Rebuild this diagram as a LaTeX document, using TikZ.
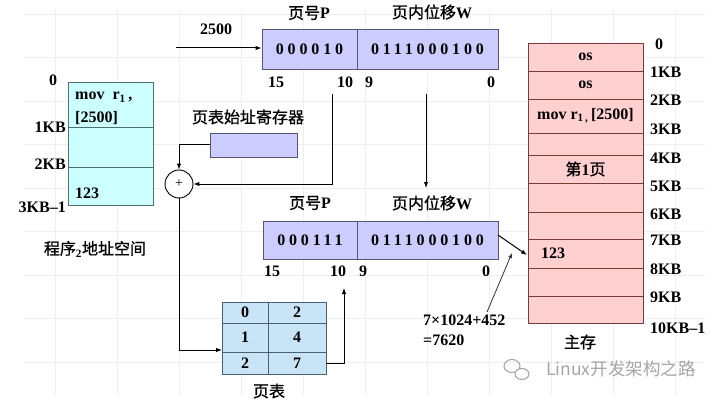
\documentclass[tikz,border=0pt]{standalone}
\usepackage{fontspec}
\setmainfont{Liberation Serif}
\newfontfamily\cjk{Noto Sans CJK SC}[FakeBold=1]
\newfontfamily\cjkwm{Noto Sans CJK SC}
\newfontfamily\spaced{Liberation Serif}[LetterSpace=24]
\usetikzlibrary{arrows.meta}
\definecolor{regfill}{HTML}{CCCCFF}
\definecolor{regline}{HTML}{55557A}
\definecolor{progfill}{HTML}{CCFFFF}
\definecolor{progline}{HTML}{4F6F6F}
\definecolor{ptfill}{HTML}{C8E4F6}
\definecolor{ptline}{HTML}{4A5F6F}
\definecolor{memfill}{HTML}{FFD0D0}
\definecolor{memline}{HTML}{7A3A3A}
\definecolor{gridc}{HTML}{EEEEEE}
\newcommand\zh[1]{{\cjk\mdseries #1}}
\begin{document}
\begin{tikzpicture}[x=1pt,y=-1pt,
  lbl/.style={font=\fontsize{16}{18}\selectfont\bfseries, inner sep=0pt},
  reg/.style={draw=regline, fill=regfill, line width=0.9pt, inner sep=0pt,
    font=\fontsize{16}{18}\selectfont\bfseries\spaced},
  progrow/.style={draw=progline, fill=progfill, line width=0.8pt, inner sep=0pt, minimum width=85pt},
  ptcell/.style={draw=ptline, fill=ptfill, line width=0.8pt, inner sep=0pt,
    font=\fontsize{16}{18}\selectfont\bfseries},
  memrow/.style={draw=memline, fill=memfill, line width=0.9pt, inner sep=0pt, minimum width=115pt,
    font=\fontsize{16}{18}\selectfont\bfseries},
  conn/.style={draw=black, line width=1pt},
  arr/.style={conn, -{Latex[length=6pt,width=4.5pt]}}
]
\useasboundingbox (0,0) rectangle (720,401);
\fill[white] (0,0) rectangle (720,401);
% faint grid
\foreach \gx in {55,117,179,241,303,365,427,489,551,613,675}
  \draw[gridc, line width=0.6pt] (\gx,10) -- (\gx,395);
\foreach \gy in {14,57.5,101,144.5,188,231.5,275,318.5,362}
  \draw[gridc, line width=0.6pt] (24,\gy) -- (705,\gy);

% ---------- top register ----------
\node[reg, minimum width=95pt, minimum height=40pt] (r1p) at (309.5,49) {000010};
\node[reg, minimum width=141pt, minimum height=40pt] (r1w) at (427.5,49) {0111000100};
\node[lbl] (r1pl) at (309,13) {\zh{页号}P};
\node[lbl] (r1wl) at (432,12) {\zh{页内位移}W};
\node[lbl] (b15a) at (276,82) {15};
\node[lbl] (b10a) at (345,82) {10};
\node[lbl] (b9a) at (369,82) {9};
\node[lbl] (b0a) at (491,82) {0};
\node[lbl] (l2500) at (216,29) {2500};
\coordinate (a2500) at (176,48);
\draw[arr] (a2500) -- (r1p.west |- a2500);

% ---------- program address space ----------
\node[progrow, minimum height=45pt] (p0) at (110.5,104.5) {};
\node[progrow, minimum height=40pt] (p1) at (110.5,147) {};
\node[progrow, minimum height=38pt] (p2) at (110.5,186) {};
\node[lbl, anchor=west] (pt1) at (75,97) {mov\ \ r\textsubscript{1}\,,};
\node[lbl, anchor=west] (pt2) at (75,118) {[2500]};
\node[lbl, anchor=west] (pt3) at (75,193) {123};
\node[lbl] (pl0) at (53,80) {0};
\node[lbl, anchor=east] (pl1) at (66,127) {1KB};
\node[lbl, anchor=east] (pl2) at (66,164) {2KB};
\node[lbl, anchor=east] (pl3) at (66,207) {3KB\textendash1};
\node[lbl] (pname) at (95,249) {\zh{程序}\textsubscript{2}\zh{地址空间}};

% ---------- page table base register ----------
\node[lbl] (basel) at (248,117) {\zh{页表始址寄存器}};
\node[draw=regline, fill=regfill, line width=0.9pt, minimum width=87pt, minimum height=24pt, inner sep=0pt] (base) at (253.5,145) {};
\node[draw=black, fill=white, line width=0.9pt, circle, minimum size=28pt, inner sep=0pt,
  font=\fontsize{14}{14}\selectfont] (plus) at (179,184) {+};
\draw[arr] (base.west) -| (plus.north);
\coordinate (p10) at (332,94);
\draw[arr] (p10) |- (plus.east);

% ---------- bottom register ----------
\node[reg, minimum width=94pt, minimum height=38pt] (r2p) at (310,240) {000111};
\node[reg, minimum width=141pt, minimum height=38pt] (r2w) at (427.5,240) {0111000100};
\node[lbl] (r2pl) at (310,203) {\zh{页号}P};
\node[lbl] (r2wl) at (432,203) {\zh{页内位移}W};
\node[lbl] (b15b) at (272,271) {15};
\node[lbl] (b10b) at (338,271) {10};
\node[lbl] (b9b) at (363,271) {9};
\node[lbl] (b0b) at (486,271) {0};
\coordinate (w1) at (426,94);
\coordinate (w2) at (426,188);
\draw[arr] (w1) -- (w2);

% ---------- page table ----------
\node[ptcell, minimum width=46pt, minimum height=21pt] (c00) at (245,312.5) {0};
\node[ptcell, minimum width=58pt, minimum height=21pt] (c01) at (297,312.5) {2};
\node[ptcell, minimum width=46pt, minimum height=29pt] (c10) at (245,337.5) {1};
\node[ptcell, minimum width=58pt, minimum height=29pt] (c11) at (297,337.5) {4};
\node[ptcell, minimum width=46pt, minimum height=22pt] (c20) at (245,363) {2};
\node[ptcell, minimum width=58pt, minimum height=22pt] (c21) at (297,363) {7};
\node[lbl] (ptl) at (269,391) {\zh{页表}};
\coordinate (ptin) at (222,350);
\draw[arr] (plus.south) |- (ptin);
\coordinate (pin) at (344,288);
\draw[arr] (c21.east) -| (pin);

% ---------- main memory ----------
\node[memrow, minimum height=28pt] (m0) at (585.5,57) {os};
\node[memrow, minimum height=28pt] (m1) at (585.5,85) {os};
\node[memrow, minimum height=34pt] (m2) at (585.5,116) {\raisebox{2pt}{mov r\textsubscript{1\,,}\,[2500]}};
\node[memrow, minimum height=22pt] (m3) at (585.5,144) {};
\node[memrow, minimum height=28pt] (m4) at (585.5,169) {\zh{第}1\zh{页}};
\node[memrow, minimum height=29pt] (m5) at (585.5,197.5) {};
\node[memrow, minimum height=27pt] (m6) at (585.5,225.5) {};
\node[memrow, minimum height=29pt] (m7) at (585.5,253.5) {};
\node[memrow, minimum height=28pt] (m8) at (585.5,282) {};
\node[memrow, minimum height=27pt] (m9) at (585.5,309.5) {};
\node[lbl, anchor=west] (m123) at (541,253) {123};
\node[lbl] (ml0) at (659,44) {0};
\node[lbl, anchor=west] (ml1) at (650,72) {1KB};
\node[lbl, anchor=west] (ml2) at (650,100) {2KB};
\node[lbl, anchor=west] (ml3) at (650,129) {3KB};
\node[lbl, anchor=west] (ml4) at (650,158) {4KB};
\node[lbl, anchor=west] (ml5) at (650,186) {5KB};
\node[lbl, anchor=west] (ml6) at (650,214) {6KB};
\node[lbl, anchor=west] (ml7) at (650,240) {7KB};
\node[lbl, anchor=west] (ml8) at (650,269) {8KB};
\node[lbl, anchor=west] (ml9) at (650,297) {9KB};
\node[lbl, anchor=west] (ml10) at (650,328) {10KB\textendash1};
\node[lbl] (mname) at (580,342) {\zh{主存}};

% ---------- physical address ----------
\coordinate (r2out) at (498,235);
\coordinate (memin) at (527,255);
\draw[arr] (r2out) -- (memin);
\node[lbl, anchor=west] (f1) at (423,320) {7×1024+452};
\node[lbl, anchor=west] (f2) at (423,340) {=7620};
\coordinate (fa) at (487,312);
\coordinate (fb) at (512,253);
\draw[draw=black!80, line width=0.8pt, -{Latex[length=5pt,width=4pt]}] (fa) -- (fb);

% ---------- watermark ----------
\draw[gray!70, line width=1.1pt] (512,366) ellipse [x radius=8, y radius=6.5];
\draw[gray!70, line width=1.1pt, fill=white] (522,374) ellipse [x radius=7, y radius=5.5];
\node[inner sep=0pt, anchor=west, text=gray!70, font=\fontsize{17.5}{18}\selectfont\cjkwm] (wm) at (546,369) {Linux开发架构之路};
\end{tikzpicture}
\end{document}
